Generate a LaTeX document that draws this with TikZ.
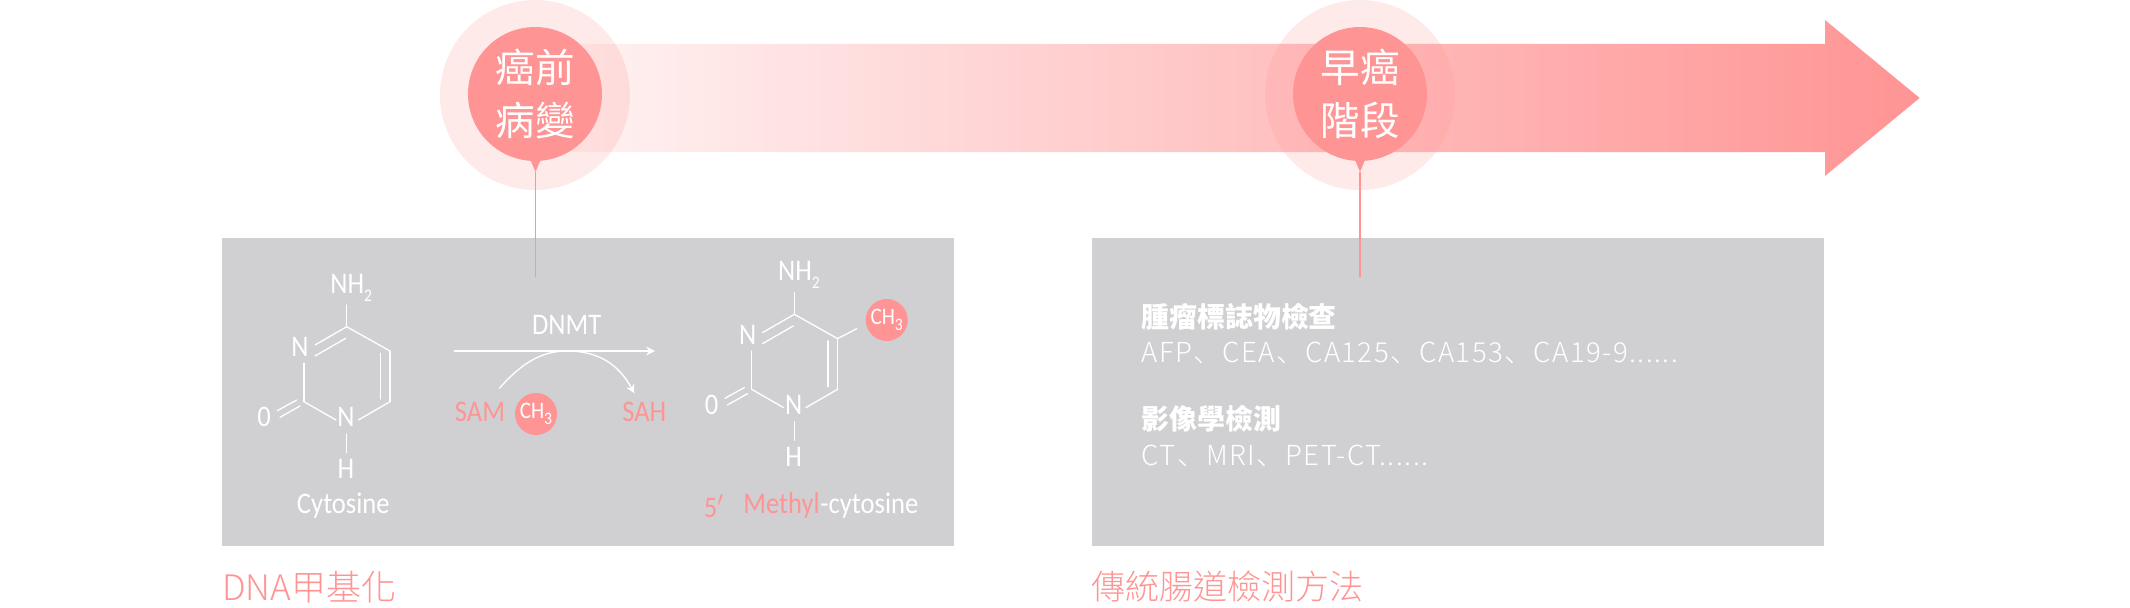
\documentclass[tikz,border=0pt]{standalone}
\usepackage{fontspec}
\usepackage{xcolor}
\setmainfont[FakeStretch=.89]{Carlito}
\newfontfamily\cjk{Noto Sans CJK TC}
\newfontfamily\cjklight{Noto Sans CJK TC Light}
\newfontfamily\cjklist[LetterSpace=5.3]{Noto Sans CJK SC Light}
\definecolor{Col1}{RGB}{255,148,148}
\definecolor{Col2}{RGB}{208,208,210}
\usetikzlibrary{arrows.meta}
\tikzstyle{Panel}=[fill=Col2]
\tikzstyle{Halo}=[circle,fill=Col1,fill opacity=.2,minimum size=3.8cm,inner sep=0pt]
\tikzstyle{Stage}=[circle,fill=Col1,minimum size=2.68cm,inner sep=0pt,text=white,
align=center,font={\cjk\fontsize{22.5}{30.6}\selectfont}]
\tikzstyle{Edge}=[draw=Col1,line width=.75pt]
\tikzstyle{Bond}=[draw=white,line width=.75pt,line cap=round]
\tikzstyle{Atom}=[text=white,font={\fontsize{17}{17}\selectfont},inner sep=0pt]
\tikzstyle{Reagent}=[text=Col1,font={\fontsize{17}{17}\selectfont},inner sep=0pt]
\tikzstyle{Methyl}=[circle,fill=Col1,text=white,minimum size=.84cm,inner sep=0pt,
font={\fontsize{13.5}{13.5}\selectfont}]
\tikzstyle{Head}=[text=white,anchor=west,inner sep=0pt,font={\cjk\bfseries\fontsize{15.9}{15.9}\selectfont}]
\tikzstyle{Line}=[text=white,anchor=west,inner sep=0pt,font={\cjklist\fontsize{15.7}{15.7}\selectfont}]
\tikzstyle{Caption}=[text=Col1,anchor=west,inner sep=0pt,font={\cjklight\fontsize{19.4}{19.4}\selectfont}]
\newcommand{\Sub}[1]{\raisebox{-.55ex}{\fontsize{10}{10}\selectfont #1}}
% ring of the base, same for both molecules
\newcommand{\BaseRing}{
        \coordinate(c4)at(346.70,326.70);
        \coordinate(c5)at(390.00,351.00);
        \coordinate(c6)at(390.00,401.70);
        \coordinate(c2)at(304.00,401.70);
        \coordinate(n1l)at(336.00,420.00);
        \coordinate(n1r)at(358.30,420.00);
        \coordinate(n3b)at(304.00,363.30);
        \coordinate(n3t)at(315.00,345.00);
        \coordinate(n3i)at(315.00,356.00);
        \coordinate(c4i)at(345.70,338.30);
        \coordinate(c5i)at(380.30,353.30);
        \coordinate(c6i)at(380.30,399.00);
        \coordinate(o1)at(296.70,400.00);
        \coordinate(o2)at(277.30,410.70);
        \coordinate(o3)at(300.00,406.00);
        \coordinate(o4)at(280.00,417.30);
        \coordinate(a1)at(346.70,305.00);
        \coordinate(h1)at(346.70,434.00);
        \coordinate(h2)at(346.70,452.70);
        \node[Atom](nh)at(351.30,287.50){NH\Sub{2}};
        \node[Atom](n3)at(300.00,347.30){N};
        \node[Atom](n1)at(346.00,417.00){N};
        \node[Atom](o)at(264.00,417.00){0};
        \node[Atom](h)at(346.00,469.00){H};
        \draw[Bond](a1)--(c4);
        \draw[Bond](c4)--(c5);
        \draw[Bond](c5)--(c6);
        \draw[Bond](c5i)--(c6i);
        \draw[Bond](c6)--(n1r);
        \draw[Bond](c2)--(n1l);
        \draw[Bond](c2)--(n3b);
        \draw[Bond](n3t)--(c4);
        \draw[Bond](n3i)--(c4i);
        \draw[Bond](o1)--(o2);
        \draw[Bond](o3)--(o4);
        \draw[Bond](h1)--(h2);
}

\begin{document}
\begin{tikzpicture}[x=.02cm,y=-.02cm]
        \useasboundingbox(0,0)rectangle(2130,608);
        % long arrow behind the two stages
        \path[left color=Col1!10,right color=Col1](535,44)--(1825,44)--(1825,20)--(1919.6,98)
            --(1825,176)--(1825,152)--(535,152)--cycle;
        % stages
        \node[Halo](halo1)at(535,95){};
        \node[Halo](halo2)at(1360,95){};
        \node[Stage](stage1)at(535,94){癌前\\病變};
        \node[Stage](stage2)at(1360,94){早癌\\階段};
        \coordinate(end1)at(535.50,277);
        \coordinate(end2)at(1360,277);
        \coordinate(tip1)at(535.50,172);
        \coordinate(tip2)at(1360,172);
        % panels
        \path[Panel](222,238)rectangle(954,546);
        \path[Panel](1092,238)rectangle(1824,546);
        \fill[Col1](530.50,160)--(540.50,160)--(tip1)--cycle;
        \fill[Col1](1355,160)--(1365,160)--(tip2)--cycle;
        \draw[Edge](tip1)--(end1);
        \draw[Edge](tip2)--(end2);
        % cytosine
        \begin{scope}[name prefix=cyt-]
            \BaseRing
        \end{scope}
        \node[Atom](cytosine)at(343.30,506){Cytosine};
        % reaction
        \coordinate(rs)at(454.30,351);
        \coordinate(re)at(655,351);
        \coordinate(as)at(499.30,388.30);
        \coordinate(ae)at(634.30,393.30);
        \node[Atom](dnmt)at(566.70,325){DNMT};
        \node[Reagent](sam)at(480,411.70){SAM};
        \node[Reagent](sah)at(644.30,411.70){SAH};
        \node[Methyl](ch1)at(536,414){CH\Sub{3}};
        \draw[Bond,-{Stealth[length=5pt,width=5pt]}](rs)--(re);
        \draw[Bond,-{Stealth[length=5pt,width=5pt]}](as)..controls(520,365)and(540,351)..(566.70,351)
            ..controls(597,351)and(618,363)..(ae);
        % methylcytosine
        \begin{scope}[name prefix=met-,shift={(447.60,-12.40)}]
            \BaseRing
            \coordinate(m)at(409.10,341.10);
            \draw[Bond](c5)--(m);
        \end{scope}
        \node[Methyl](ch2)at(886.70,320){CH\Sub{3}};
        \node[Reagent](five)at(714,506){5$'$};
        \node[Reagent,anchor=west](methyl)at(743,506){Methyl};
        \node[Atom,anchor=west](cyto)at(methyl.east){-cytosine};
        % test list
        \node[Head](head1)at(1141,317){腫瘤標誌物檢查};
        \node[Line](line1)at(1141,353){AFP、CEA、CA125、CA153、CA19-9......};
        \node[Head](head2)at(1141,419){影像學檢測};
        \node[Line](line2)at(1141,455.50){CT、MRI、PET-CT......};
        % captions
        \node[Caption,font={\cjklight\fontsize{20}{20}\selectfont}](cap1)at(222,587){DNA甲基化};
        \node[Caption](cap2)at(1091,587){傳統腸道檢測方法};
\end{tikzpicture}
\end{document}
